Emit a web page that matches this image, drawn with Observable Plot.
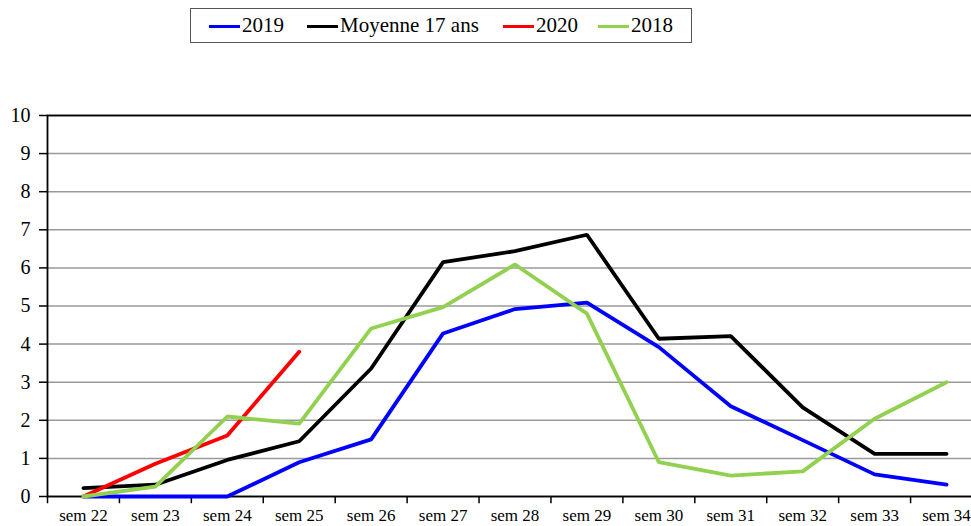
<!DOCTYPE html>
<html><head><meta charset="utf-8">
<script src="https://cdn.jsdelivr.net/npm/d3@7"></script>
<script src="https://cdn.jsdelivr.net/npm/@observablehq/plot@0.6"></script>
<style>
body{margin:0;background:#fff;font-family:"Liberation Serif",serif;}
#wrap{position:relative;width:971px;height:526px;overflow:hidden;}
#chart svg{overflow:hidden;}
#legend{position:absolute;left:190px;top:8px;width:502px;height:35px;border:1px solid #555;box-sizing:border-box;font-size:21px;z-index:2;}
.it{position:absolute;top:4px;white-space:nowrap;}
.sw{display:inline-block;width:31px;height:3px;vertical-align:middle;margin-right:2px;position:relative;top:-1px;}
</style></head>
<body><div id="wrap"><div id="legend"></div><div id="chart"></div></div>
<script>
const weeks = ["sem 22","sem 23","sem 24","sem 25","sem 26","sem 27","sem 28","sem 29","sem 30","sem 31","sem 32","sem 33","sem 34"];
const s2019 = [0, 0, 0, 0.9, 1.5, 4.28, 4.92, 5.09, 3.92, 2.37, 1.48, 0.58, 0.31];
const sMoy = [0.22, 0.31, 0.96, 1.45, 3.36, 6.15, 6.44, 6.87, 4.14, 4.21, 2.34, 1.12, 1.12];
const s2020 = [0, 0.86, 1.6, 3.8];
const s2018 = [0, 0.26, 2.1, 1.91, 4.41, 4.97, 6.09, 4.8, 0.9, 0.55, 0.66, 2.04, 3.0];
const seriesNames = ["2019","Moyenne 17 ans","2020","2018"];
const seriesColors = ["#0000ff","#000000","#ff0000","#92d050"];
const yTicks = [0,1,2,3,4,5,6,7,8,9,10];

const allSeries = [s2019, sMoy, s2020, s2018];
const rows = [];
allSeries.forEach((vals, i) => vals.forEach((v, j) => rows.push({week: weeks[j], value: v, series: seriesNames[i]})));

const W = 971, H = 526;
const mL = 47, mR = -11, mT = 115, mB = 30;
const bw = (W - mR - mL)/weeks.length;
const serif = "Liberation Serif, serif";

const plot = Plot.plot({
  width: W, height: H,
  marginTop: mT, marginBottom: mB, marginLeft: mL, marginRight: mR,
  style: {background: "white", color: "black", overflow: "hidden"},
  x: {type: "band", domain: weeks, padding: 0, round: false, label: null},
  y: {domain: [0, 10], label: null},
  color: {domain: seriesNames, range: seriesColors},
  marks: [
    Plot.gridY(yTicks, {stroke: "#9a9a9a", strokeOpacity: 1, strokeWidth: 1.5}),
    Plot.axisY(yTicks, {tickSize: 8, tickPadding: 9, fontSize: 20, fontFamily: serif, stroke: "black", strokeWidth: 1.5, tickFormat: d => d, label: null}),
    Plot.axisX({tickSize: 0, tickPadding: 12, fontSize: 17, fontFamily: serif, label: null}),
    Plot.ruleX(weeks, {x: d => d, dx: -bw/2, y1: 0, y2: -0.19, stroke: "black", strokeWidth: 1.5}),
    Plot.frame({stroke: "black", strokeWidth: 1.8}),
    Plot.line(rows, {x: "week", y: "value", z: "series", stroke: "series", strokeWidth: 3.8, strokeLinejoin: "miter"})
  ]
});
document.getElementById("chart").appendChild(plot);

const pos = [18, 116, 312, 407];
const lg = document.getElementById("legend");
seriesNames.forEach((n, i) => {
  const d = document.createElement("div");
  d.className = "it";
  d.style.left = pos[i] + "px";
  d.innerHTML = `<span class="sw" style="background:${seriesColors[i]}"></span>${n}`;
  lg.appendChild(d);
});
</script></body></html>
